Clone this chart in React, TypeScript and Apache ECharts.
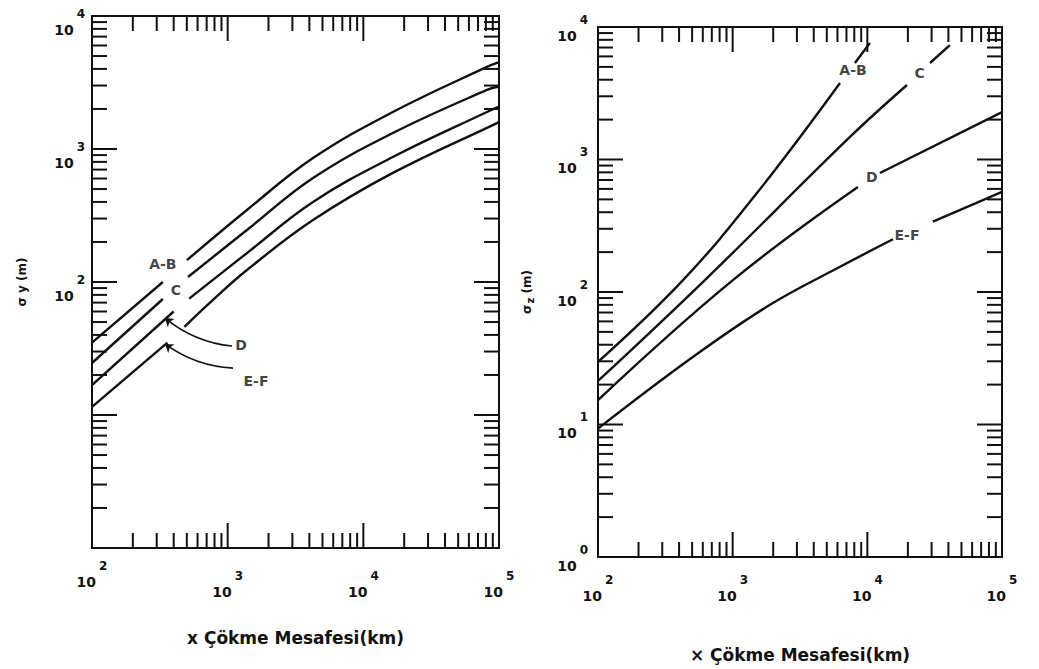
import React, { useEffect, useRef } from "react";
import * as echarts from "echarts";

const FONT = "DejaVu Sans";
const INK = "#111111";

// Axis tick definitions (log paper)
const xDecades = [100, 1000, 10000, 100000];
const yDecades = [1, 10, 100, 1000, 10000];
const minorSteps = [2, 3, 4, 5, 6, 7, 8, 9];

// Left panel: sigma_y (m) vs downwind distance; null = gap where the label sits
const sigmaY_AB = [[100, 35], [333, 100], null, [501, 146], [1387, 348], [4256, 855], [16500, 1897], [81500, 4140], [100000, 4500]];
const sigmaY_C = [[100, 24.6], [333, 74.5], null, [510, 109], [1387, 246], [4256, 605], [16500, 1318], [81500, 2780], [100000, 2950]];
const sigmaY_D = [[100, 16.8], [400, 60], null, [520, 75], [1387, 165], [4256, 400], [16500, 871], [81500, 1897], [100000, 2080]];
const sigmaY_EF = [[100, 11.5], [360, 35], null, [480, 46], [741, 70], [1387, 123], [4256, 292], [16500, 661], [96600, 1567], [100000, 1600]];

// Right panel: sigma_z (m)
const sigmaZ_AB = [[100, 29.7], [428, 123], [1514, 558], [6270, 3776], null, [8090, 5350], [10450, 7570]];
const sigmaZ_C = [[100, 21.3], [622, 123], [7430, 1479], [19700, 3650], null, [29200, 5350], [41000, 7310]];
const sigmaZ_D = [[100, 15.3], [1004, 123], [8510, 620], null, [12400, 791], [100000, 2280]];
const sigmaZ_EF = [[100, 9.3], [500, 32], [1892, 80], [6270, 155], [15500, 250], null, [30700, 340], [100000, 569]];

// Curve labels (data coordinates)
const leftLabels = [
  { name: "A-B", value: [333, 136] },
  { name: "C", value: [416, 87] },
  { name: "D", value: [1253, 33.6] },
  { name: "E-F", value: [1617, 18] },
];
const rightLabels = [
  { name: "A-B", value: [7820, 4735] },
  { name: "C", value: [24500, 4500] },
  { name: "D", value: [10800, 738] },
  { name: "E-F", value: [19700, 269] },
];
// Pointer arrows in left panel: [tail, tip]
const leftArrows = [
  [[1076, 33], [345, 53.6]],
  [[1094, 22.5], [345, 34.2]],
];

const expOf = (v: number) => Math.round(Math.log10(v));
const toLine = (pts: any[]) => pts.map((p) => (p ? p : ["-", "-"]));

function buildTicks(xMin: number, xMax: number, yMin: number, yMax: number) {
  const d: number[][] = [];
  xDecades.forEach((dec) => {
    if (dec >= xMin && dec <= xMax) d.push([dec, yMin, 0, 1]);
    if (dec >= xMin && dec < xMax) minorSteps.forEach((m) => d.push([dec * m, yMin, 0, 0]));
  });
  yDecades.forEach((dec) => {
    if (dec >= yMin && dec <= yMax) d.push([xMin, dec, 1, 1]);
    if (dec >= yMin && dec < yMax) minorSteps.forEach((m) => d.push([xMin, dec * m, 1, 0]));
  });
  return d;
}

function tickSeries(idx: number, data: number[][]) {
  return {
    type: "custom",
    xAxisIndex: idx,
    yAxisIndex: idx,
    silent: true,
    clip: false,
    data,
    renderItem: (params: any, api: any) => {
      const cs = params.coordSys;
      const kind = api.value(2);
      const major = api.value(3);
      const len = major ? 25 : 15;
      const style = { stroke: INK, lineWidth: 2 };
      const p = api.coord([api.value(0), api.value(1)]);
      if (kind === 0) {
        const x = p[0];
        const b = cs.y + cs.height;
        return {
          type: "group",
          children: [
            { type: "line", shape: { x1: x, y1: b, x2: x, y2: b - len }, style },
            { type: "line", shape: { x1: x, y1: cs.y, x2: x, y2: cs.y + len }, style },
          ],
        };
      }
      const y = p[1];
      const r = cs.x + cs.width;
      return {
        type: "group",
        children: [
          { type: "line", shape: { x1: cs.x, y1: y, x2: cs.x + len, y2: y }, style },
          { type: "line", shape: { x1: r, y1: y, x2: r - len, y2: y }, style },
        ],
      };
    },
  };
}

const numRich = {
  b: { fontFamily: FONT, fontWeight: "bold", fontSize: 14, color: INK, verticalAlign: "bottom" },
  e: { fontFamily: FONT, fontWeight: "bold", fontSize: 12, color: INK, verticalAlign: "top", padding: [0, 0, 17, 3] },
  el: { fontFamily: FONT, fontWeight: "bold", fontSize: 12, color: INK, verticalAlign: "top", padding: [10, 0, 17, 3] },
};

const nameStyle = { fontFamily: FONT, fontWeight: "bold", fontSize: 17, color: INK };

function lineSeries(idx: number, pts: any[]) {
  return {
    type: "line",
    xAxisIndex: idx,
    yAxisIndex: idx,
    data: toLine(pts),
    symbol: "none",
    showSymbol: false,
    smooth: 0.4,
    connectNulls: false,
    silent: true,
    lineStyle: { color: INK, width: 2.4 },
  };
}

function labelSeries(idx: number, items: any[]) {
  return {
    type: "scatter",
    xAxisIndex: idx,
    yAxisIndex: idx,
    symbolSize: 1,
    silent: true,
    itemStyle: { color: "rgba(0,0,0,0)" },
    data: items,
    label: {
      show: true,
      position: "inside",
      formatter: "{b}",
      fontFamily: FONT,
      fontWeight: "bold",
      fontSize: 14,
      color: INK,
    },
  };
}

const baseX = (idx: number) => ({
  type: "log",
  logBase: 10,
  gridIndex: idx,
  min: 100,
  max: 100000,
  axisLine: { show: false },
  axisTick: { show: false },
  splitLine: { show: false },
  minorTick: { show: false },
});
const baseY = (idx: number) => ({
  type: "log",
  logBase: 10,
  gridIndex: idx,
  min: 1,
  max: 10000,
  axisLine: { show: false },
  axisTick: { show: false },
  splitLine: { show: false },
  minorTick: { show: false },
});

const option: any = {
  animation: false,
  backgroundColor: "#ffffff",
  grid: [
    { left: 92, top: 16, width: 407, height: 532, show: true, borderColor: INK, borderWidth: 2, backgroundColor: "transparent" },
    { left: 598, top: 27, width: 404, height: 530, show: true, borderColor: INK, borderWidth: 2, backgroundColor: "transparent" },
  ],
  xAxis: [
    {
      ...baseX(0),
      name: "x Çökme Mesafesi(km)",
      nameLocation: "middle",
      nameGap: 81,
      nameTextStyle: nameStyle,
      axisLabel: {
        margin: 12,
        formatter: (v: number) => (v <= 100 ? `{b|10}{e|${expOf(v)}}` : `{b|10}{el|${expOf(v)}}`),
        rich: numRich,
      },
    },
    {
      ...baseX(1),
      name: "× Çökme Mesafesi(km)",
      nameLocation: "middle",
      nameGap: 89,
      nameTextStyle: nameStyle,
      axisLabel: {
        margin: 17,
        formatter: (v: number) => `{b|10}{e|${expOf(v)}}`,
        rich: numRich,
      },
    },
  ],
  yAxis: [
    {
      ...baseY(0),
      name: "σ y (m)",
      nameLocation: "middle",
      nameRotate: 90,
      nameGap: 64,
      nameTextStyle: { fontFamily: FONT, fontWeight: "bold", fontSize: 12, color: INK },
      axisLabel: {
        margin: 7,
        padding: [12, 0, 0, 0],
        formatter: (v: number) => (v >= 100 ? `{b|10}{e|${expOf(v)}}` : ""),
        rich: numRich,
      },
    },
    {
      ...baseY(1),
      name: "{s|σ}{z|z}{n| (m)}",
      nameLocation: "middle",
      nameRotate: 90,
      nameGap: 63,
      nameTextStyle: {
        fontFamily: FONT,
        fontWeight: "bold",
        fontSize: 12,
        color: INK,
        rich: {
          s: { fontFamily: FONT, fontWeight: "bold", fontSize: 12, color: INK },
          z: { fontFamily: FONT, fontWeight: "bold", fontSize: 10, color: INK, verticalAlign: "bottom", padding: [6, 0, 0, 1] },
          n: { fontFamily: FONT, fontWeight: "bold", fontSize: 12, color: INK },
        },
      },
      axisLabel: {
        margin: 10,
        padding: [2, 0, 0, 0],
        formatter: (v: number) => `{b|10}{e|${expOf(v)}}`,
        rich: numRich,
      },
    },
  ],
  series: [
    tickSeries(0, buildTicks(100, 100000, 1, 10000)),
    tickSeries(1, buildTicks(100, 100000, 1, 10000)),
    lineSeries(0, sigmaY_AB),
    lineSeries(0, sigmaY_C),
    lineSeries(0, sigmaY_D),
    lineSeries(0, sigmaY_EF),
    lineSeries(1, sigmaZ_AB),
    lineSeries(1, sigmaZ_C),
    lineSeries(1, sigmaZ_D),
    lineSeries(1, sigmaZ_EF),
    labelSeries(0, leftLabels),
    labelSeries(1, rightLabels),
    {
      type: "lines",
      coordinateSystem: "cartesian2d",
      xAxisIndex: 0,
      yAxisIndex: 0,
      silent: true,
      symbol: ["none", "arrow"],
      symbolSize: 8,
      lineStyle: { color: INK, width: 1.6, curveness: 0.15, opacity: 1 },
      data: leftArrows.map((c) => ({ coords: c })),
    },
  ],
};

export default function App() {
  const ref = useRef<HTMLDivElement>(null);
  useEffect(() => {
    const chart = echarts.init(ref.current!, null, { renderer: "svg" });
    chart.setOption(option);
    return () => chart.dispose();
  }, []);
  return (
    <div
      ref={ref}
      style={{ position: "fixed", left: 0, top: 0, width: 1039, height: 669, background: "#ffffff" }}
    />
  );
}
